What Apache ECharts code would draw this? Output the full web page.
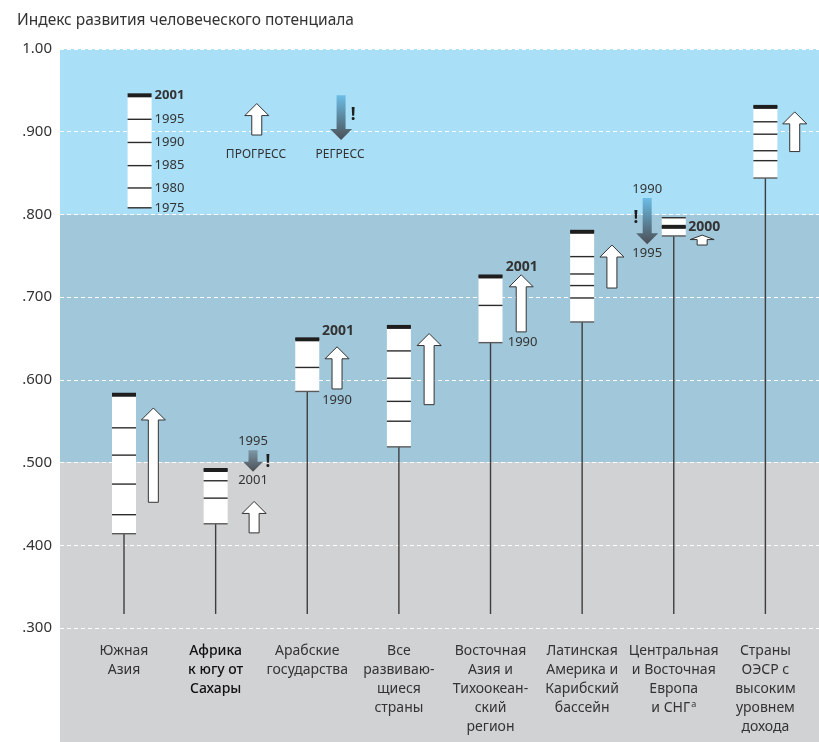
<!DOCTYPE html>
<html>
<head>
<meta charset="utf-8">
<script src="https://cdn.jsdelivr.net/npm/echarts@6/dist/echarts.min.js"></script>
<style>
    html, body {margin: 0; padding: 0; background: #fff;}
    #chart {width: 819px; height: 742px;}
</style>
</head>
<body>
<div id="chart"></div>
<script type="text/javascript">
    // регионы (подписи оси X)
    const regions = ['Южная\nАзия', 'Африка\nк югу от\nСахары', 'Арабские\nгосударства', 'Все\nразвиваю-\nщиеся\nстраны',
        'Восточная\nАзия и\nТихоокеан-\nский\nрегион', 'Латинская\nАмерика и\nКарибский\nбассейн',
        'Центральная\nи Восточная\nЕвропа\nи СНГ', 'Страны\nОЭСР с\nвысоким\nуровнем\nдохода'];
    // ИРЧП по годам для каждого региона (линии в столбике)
    const yearLines = [
        [0.414, 0.437, 0.474, 0.509, 0.542, 0.582],
        [0.426, 0.457, 0.478, 0.491],
        [0.586, 0.615, 0.649],
        [0.519, 0.550, 0.574, 0.602, 0.635, 0.664],
        [0.645, 0.690, 0.725],
        [0.670, 0.699, 0.714, 0.728, 0.749, 0.779],
        [0.774, 0.785, 0.796],
        [0.844, 0.865, 0.877, 0.897, 0.912, 0.930]
    ];
    // последнее значение (жирная линия)
    const latest = [0.582, 0.491, 0.649, 0.664, 0.725, 0.779, 0.785, 0.930];
    const stemBase = 0.317;
    const yTicks = [0.3, 0.4, 0.5, 0.6, 0.7, 0.8, 0.9, 1.0];
    const bands = [[0.8, 1.0], [0.5, 0.8], [0.3, 0.5]];

    // пояснение (ключ)
    const keyPos = 0.17;
    const keyLines = [0.808, 0.832, 0.859, 0.887, 0.915, 0.944];
    const keyYears = ['1975', '1980', '1985', '1990', '1995', '2001'];
    const keyWords = [[1.441, 0.872, 'ПРОГРЕСС'], [2.358, 0.872, 'РЕГРЕСС']];

    // стрелки: [x, от, до]
    const progress = [[0.32, 0.452, 0.566], [1.42, 0.415, 0.453], [2.325, 0.589, 0.640], [3.33, 0.570, 0.656],
        [4.335, 0.658, 0.727], [5.325, 0.711, 0.763], [6.31, 0.763, 0.775], [7.32, 0.876, 0.924], [1.449, 0.896, 0.934]];
    const regress = [[1.408, 0.515, 0.489], [5.71, 0.820, 0.764], [2.369, 0.944, 0.890]];
    // подписи годов у стрелок: [x, значение, текст]
    const tags = [[1.408, 0.526, '1995'], [1.408, 0.478, '2001'], [2.325, 0.575, '1990'], [4.35, 0.646, '1990'],
        [5.71, 0.830, '1990'], [5.71, 0.753, '1995']];
    const boldTags = [[2.336, 0.659, '2001'], [4.342, 0.736, '2001'], [6.332, 0.785, '2000']];
    const warnings = [[1.569, 0.501], [5.586, 0.795], [2.5, 0.920]];

    const FONT = '"Noto Sans", sans-serif';
    const BOX_W = 0.262;
    const TXT = '#333';

    let myChart = echarts.init(document.getElementById('chart'));

    function arrowPts(cx, yBase, yTip, shaftW, headW, headH) {
        let dir = yTip < yBase ? 1 : -1;
        let yNeck = yTip + dir * headH;
        return [[cx - shaftW / 2, yBase], [cx - shaftW / 2, yNeck], [cx - headW / 2, yNeck], [cx, yTip],
            [cx + headW / 2, yNeck], [cx + shaftW / 2, yNeck], [cx + shaftW / 2, yBase]];
    }

    function renderBox(params, api) {
        let i = params.dataIndex;
        let lines = yearLines[i];
        let x = api.coord([i, 0])[0];
        let w = api.size([BOX_W, 0])[0];
        let top = api.coord([0, Math.max.apply(null, lines)])[1];
        let bot = api.coord([0, Math.min.apply(null, lines)])[1];
        let base = api.coord([0, stemBase])[1];
        let children = [
            {type: 'line', shape: {x1: x, y1: base, x2: x, y2: bot}, style: {stroke: '#3e3e3e', lineWidth: 1.4}},
            {type: 'rect', shape: {x: x - w / 2, y: top, width: w, height: bot - top}, style: {fill: '#fff'}}
        ];
        lines.forEach(function (v) {
            let y = api.coord([0, v])[1];
            children.push({type: 'line', shape: {x1: x - w / 2, y1: y, x2: x + w / 2, y2: y},
                style: {stroke: v === lines[0] ? '#5a5a5a' : '#2b2b2b', lineWidth: 1.4}});
        });
        let yl = api.coord([0, latest[i]])[1];
        children.push({type: 'rect', shape: {x: x - w / 2, y: yl - 2, width: w, height: 4}, style: {fill: '#1e1e1e'}});
        return {type: 'group', children: children};
    }

    function renderKey(params, api) {
        let x = api.coord([keyPos, 0])[0];
        let w = api.size([BOX_W, 0])[0];
        let top = api.coord([0, keyLines[keyLines.length - 1]])[1];
        let bot = api.coord([0, keyLines[0]])[1];
        let children = [{type: 'rect', shape: {x: x - w / 2, y: top, width: w, height: bot - top}, style: {fill: '#fff'}}];
        keyLines.forEach(function (v, k) {
            let y = api.coord([0, v])[1];
            let last = k === keyLines.length - 1;
            if (last) {
                children.push({type: 'rect', shape: {x: x - w / 2, y: y - 2, width: w, height: 4}, style: {fill: '#1e1e1e'}});
            } else {
                children.push({type: 'line', shape: {x1: x - w / 2, y1: y, x2: x + w / 2, y2: y}, style: {stroke: '#2b2b2b', lineWidth: 1.4}});
            }
            children.push({type: 'text', style: {text: keyYears[k], x: x + w / 2 + 3, y: y, fill: TXT,
                    font: (last ? 'bold ' : '') + '13px ' + FONT, align: 'left', verticalAlign: 'middle'}});
        });
        keyWords.forEach(function (d) {
            let p = api.coord([d[0], d[1]]);
            children.push({type: 'text', style: {text: d[2], x: p[0], y: p[1], fill: TXT, font: '12px ' + FONT,
                    align: 'center', verticalAlign: 'middle'}});
        });
        return {type: 'group', children: children};
    }

    function renderProgress(params, api) {
        let d = progress[params.dataIndex];
        let b = api.coord([d[0], d[1]]);
        let t = api.coord([d[0], d[2]]);
        let len = b[1] - t[1];
        return {type: 'polygon', shape: {points: arrowPts(b[0], b[1], t[1], 10, 24, Math.min(12, len * 0.45))},
            style: {fill: '#fff', stroke: '#333', lineWidth: 1}};
    }

    function renderRegress(params, api) {
        let d = regress[params.dataIndex];
        let b = api.coord([d[0], d[1]]);
        let t = api.coord([d[0], d[2]]);
        let len = t[1] - b[1];
        let topColor = len > 30 ? '#6cbde6' : '#7d98a8';
        return {type: 'polygon', shape: {points: arrowPts(b[0], b[1], t[1], 9, len > 30 ? 22 : 20, len > 30 ? 11 : 10)},
            style: {fill: new echarts.graphic.LinearGradient(0, 0, 0, 1, [{offset: 0, color: topColor}, {offset: 1, color: '#4b4f54'}])}};
    }

    function renderTag(params, api) {
        let bold = params.seriesName === 'boldTags';
        let d = (bold ? boldTags : tags)[params.dataIndex];
        let p = api.coord([d[0], d[1]]);
        return {type: 'text', style: {text: d[2], x: p[0], y: p[1], fill: TXT,
                font: (bold ? 'bold 14px ' : '13px ') + FONT, align: 'center', verticalAlign: 'middle'}};
    }

    function renderWarn(params, api) {
        let d = warnings[params.dataIndex];
        let p = api.coord([d[0], d[1]]);
        return {type: 'text', style: {text: '!', x: p[0], y: p[1], fill: '#1e1e1e',
                font: 'bold 17px ' + FONT, align: 'center', verticalAlign: 'middle'}};
    }

    let dataAxes = {xAxisIndex: 3, yAxisIndex: 2, coordinateSystem: 'cartesian2d', z: 5, silent: true, clip: false};

    let option = {
        animation: false,
        title: {
            text: 'Индекс развития человеческого потенциала',
            left: 12, top: 8,
            textStyle: {fontFamily: FONT, fontSize: 15.5, fontWeight: 'normal', color: TXT}
        },
        grid: [
            {left: 60, right: 0, top: 628, bottom: 0, show: true, backgroundColor: '#d1d2d4', borderWidth: 0},
            {left: 60, right: 0, top: 49, bottom: 114},
            {left: 78.2, right: 7.8, top: 49, bottom: 114}
        ],
        xAxis: [
            {gridIndex: 0, type: 'value', show: false, min: 0, max: 1},
            {gridIndex: 1, type: 'value', show: false, min: 0, max: 1},
            {
                gridIndex: 2, type: 'category', data: regions,
                axisLine: {show: false}, axisTick: {show: false},
                axisLabel: {
                    interval: 0, margin: 14, color: TXT, fontFamily: FONT, fontSize: 14, lineHeight: 19,
                    formatter: function (v, i) {
                        if (i === 6) return v + '{sup|a}';
                        if (i === 1) return v.split('\n').map(function (s) { return '{b|' + s + '}'; }).join('\n');
                        return v;
                    },
                    rich: {
                        sup: {fontSize: 9, fontFamily: FONT, color: TXT, padding: [0, 0, 9, 1], lineHeight: 19},
                        b: {fontSize: 14, fontFamily: FONT, color: '#111', fontWeight: 500, lineHeight: 19}
                    }
                }
            },
            {gridIndex: 2, type: 'value', show: false, min: -0.5, max: 7.5}
        ],
        yAxis: [
            {gridIndex: 0, type: 'value', show: false, min: 0, max: 1},
            {
                gridIndex: 1, type: 'value', min: yTicks[0], max: yTicks[yTicks.length - 1], interval: 0.1, z: 3,
                axisLine: {show: false}, axisTick: {show: false},
                axisLabel: {
                    color: TXT, fontFamily: FONT, fontSize: 15, margin: 8,
                    formatter: function (v) {
                        return v > 0.999 ? '1.00' : '.' + Math.round(v * 1000);
                    }
                },
                splitLine: {lineStyle: {color: '#fff', type: [4, 3], width: 1}}
            },
            {gridIndex: 2, type: 'value', show: false, min: yTicks[0], max: yTicks[yTicks.length - 1]}
        ],
        series: [
            {
                type: 'line', xAxisIndex: 1, yAxisIndex: 1, data: [], z: 0, silent: true,
                markArea: {
                    silent: true, z: 0,
                    data: bands.map(function (b, k) {
                        return [{yAxis: b[0], itemStyle: {color: ['#aadff8', '#a0c7da', '#d1d2d4'][k]}}, {yAxis: b[1]}];
                    })
                }
            },
            Object.assign({type: 'custom', name: 'boxes', renderItem: renderBox,
                data: latest.map(function (v, i) { return [i, v]; })}, dataAxes),
            Object.assign({type: 'custom', name: 'key', renderItem: renderKey, data: [[keyPos, keyLines[0]]]}, dataAxes),
            Object.assign({type: 'custom', name: 'progress', renderItem: renderProgress,
                data: progress.map(function (d) { return [d[0], d[2]]; })}, dataAxes),
            Object.assign({type: 'custom', name: 'regress', renderItem: renderRegress,
                data: regress.map(function (d) { return [d[0], d[1]]; })}, dataAxes),
            Object.assign({type: 'custom', name: 'tags', renderItem: renderTag,
                data: tags.map(function (d) { return [d[0], d[1]]; })}, dataAxes),
            Object.assign({type: 'custom', name: 'boldTags', renderItem: renderTag,
                data: boldTags.map(function (d) { return [d[0], d[1]]; })}, dataAxes),
            Object.assign({type: 'custom', name: 'warnings', renderItem: renderWarn,
                data: warnings.map(function (d) { return [d[0], d[1]]; })}, dataAxes)
        ]
    };
    myChart.setOption(option);
</script>
</body>
</html>
